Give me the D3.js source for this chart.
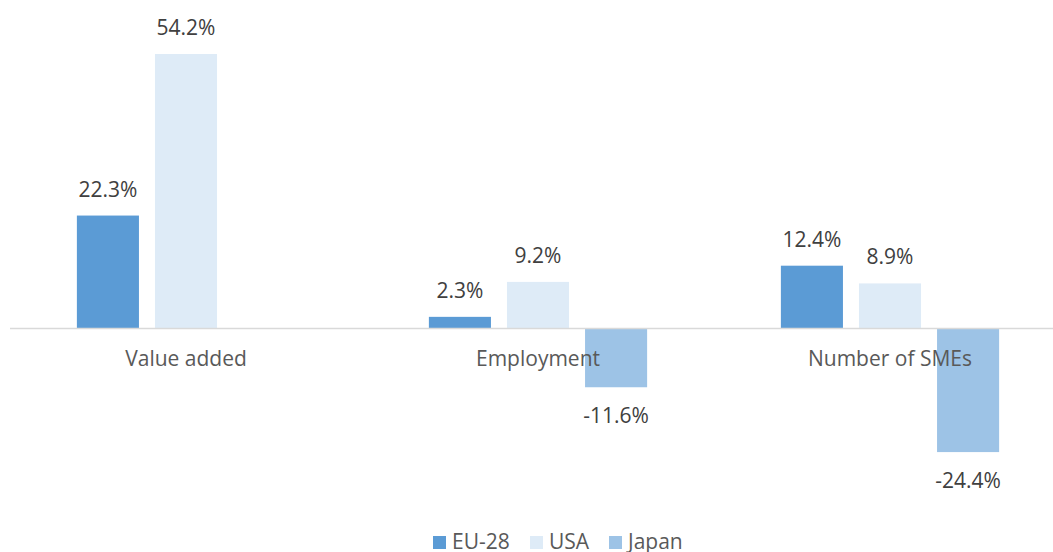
<!DOCTYPE html>
<html>
<head>
<meta charset="utf-8">
<script src="https://cdn.jsdelivr.net/npm/d3@7"></script>
<style>
  body { margin: 0; background: #fff; }
  text { font-family: "Open Sans", sans-serif; }
</style>
</head>
<body>
<div id="chart"></div>
<script>
// data
var categories = ["Value added", "Employment", "Number of SMEs"];
var series = ["EU-28", "USA", "Japan"];
var eu28 = [22.3, 2.3, 12.4];
var usa = [54.2, 9.2, 8.9];
var japan = [null, -11.6, -24.4];
var colors = ["#5b9bd5", "#deebf7", "#9dc3e6"];

var values = [eu28, usa, japan];

var width = 1053, height = 552;

var svg = d3.select("#chart")
  .append("svg")
    .attr("width", width)
    .attr("height", height);

// scales
var x0 = d3.scaleBand()
  .domain(categories)
  .range([10, 1066])
  .paddingInner(0.38)
  .paddingOuter(0.19);

var x1 = d3.scaleBand()
  .domain(series)
  .range([0, x0.bandwidth()])
  .paddingInner(16 / 78);

var y = d3.scaleLinear()
  .domain([-30, 60])
  .range([480.45, 24.6]);

var color = d3.scaleOrdinal().domain(series).range(colors);

// bars
var rows = [];
categories.forEach(function(c, i) {
  series.forEach(function(s, j) {
    if (values[j][i] != null) rows.push({cat: c, ser: s, v: values[j][i]});
  });
});

svg.append("g").selectAll("rect")
  .data(rows)
  .enter()
  .append("rect")
    .attr("x", function(d) { return x0(d.cat) + x1(d.ser); })
    .attr("width", x1.bandwidth())
    .attr("y", function(d) { return y(Math.max(0, d.v)); })
    .attr("height", function(d) { return Math.abs(y(d.v) - y(0)); })
    .attr("fill", function(d) { return color(d.ser); });

// zero line
svg.append("line")
  .attr("x1", 10)
  .attr("x2", 1053)
  .attr("y1", y(0))
  .attr("y2", y(0))
  .attr("stroke", "#d9d9d9")
  .attr("stroke-width", 1.5);

// data labels
svg.append("g").selectAll("text")
  .data(rows)
  .enter()
  .append("text")
    .attr("x", function(d) { return x0(d.cat) + x1(d.ser) + x1.bandwidth() / 2; })
    .attr("y", function(d) { return d.v >= 0 ? y(d.v) - 19 : y(d.v) + 36; })
    .attr("text-anchor", "middle")
    .attr("font-size", "21px")
    .attr("fill", "#404040")
    .text(function(d) { return d.v.toFixed(1) + "%"; });

// category labels
svg.append("g").selectAll("text")
  .data(categories)
  .enter()
  .append("text")
    .attr("x", function(d) { return x0(d) + x0.bandwidth() / 2; })
    .attr("y", 366)
    .attr("text-anchor", "middle")
    .attr("font-size", "21px")
    .attr("fill", "#595959")
    .text(function(d) { return d; });

// legend
var legendX = [433, 530, 609];
var legend = svg.append("g").selectAll("g")
  .data(series)
  .enter()
  .append("g")
    .attr("transform", function(d, i) { return "translate(" + legendX[i] + ",536)"; });

legend.append("rect")
  .attr("width", 13)
  .attr("height", 13)
  .attr("fill", function(d) { return color(d); });

legend.append("text")
  .attr("x", 19)
  .attr("y", 13)
  .attr("font-size", "21px")
  .attr("fill", "#595959")
  .text(function(d) { return d; });
</script>
</body>
</html>
